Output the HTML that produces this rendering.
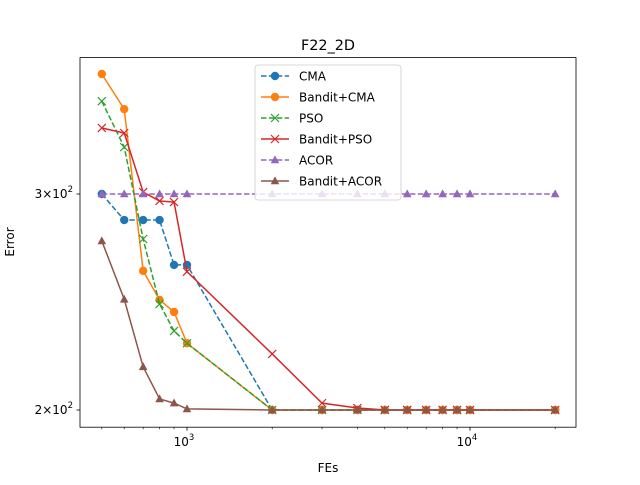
<!DOCTYPE html>
<html><head><meta charset="utf-8"><style>
body{margin:0;background:#fff;}
svg text{font-family:"DejaVu Sans","Liberation Sans",sans-serif;}
</style></head><body>
<svg id="chart" width="640" height="480" viewBox="0 0 640 480" xmlns="http://www.w3.org/2000/svg">
<rect width="640" height="480" fill="#fff"/>
<text x="328" y="50" font-size="14.4" text-anchor="middle">F22_2D</text>
<text x="328" y="472" font-size="12" text-anchor="middle">FEs</text>
<text transform="translate(14,242) rotate(-90)" font-size="12" text-anchor="middle">Error</text>
<g id="ticks"></g>
<g id="series"></g>
<rect x="80" y="57.6" width="496" height="369.6" fill="none" stroke="#000" stroke-width="0.8"/>
<g id="legend"></g>
</svg>
<script>
const fes = [500,600,700,800,900,1000,2000,3000,4000,5000,6000,7000,8000,9000,10000,20000];
const seriesNames = ["CMA","Bandit+CMA","PSO","Bandit+PSO","ACOR","Bandit+ACOR"];
const cma = [300,285.7,285.7,285.7,262.6,262.6,200,200,200,200,200,200,200,200,200,200];
const banditCma = [375.8,351.8,259.7,245.9,240.4,226.7,200,200,200,200,200,200,200,200,200,200];
const pso = [357.1,327.6,275.7,244.0,232.0,226.7,200,200,200,200,200,200,200,200,200,200];
const banditPso = [339.6,336.4,301.1,296.1,295.5,259.3,222.2,202.6,200.75,200,200,200,200,200,200,200];
const acor = [300,300,300,300,300,300,300,300,300,300,300,300,300,300,300,300];
const banditAcor = [274.7,246.2,216.9,204.2,202.6,200.4,200,200,200,200,200,200,200,200,200,200];
const xMajorTicks = [1000,10000];
const xMajorLabels = ["10","10"];
const xMajorExps = ["3","4"];
const xMinorTicks = [500,600,700,800,900,2000,3000,4000,5000,6000,7000,8000,9000,20000];
const yTicks = [200,300];
const yTickMant = ["2","3"];

const NS="http://www.w3.org/2000/svg";
function xs(v){return 187+(Math.log10(v)-3)*283;}
function ys(v){return 410-(Math.log10(v)-Math.log10(200))*1226.6;}
function mk(tag,attrs,parent){const e=document.createElementNS(NS,tag);for(const k in attrs)e.setAttribute(k,attrs[k]);parent.appendChild(e);return e;}
const tg=document.getElementById('ticks');
xMajorTicks.forEach((t,i)=>{
  const l=mk('line',{x1:xs(t),x2:xs(t),y1:427.2,y2:430.7,stroke:'#000','stroke-width':0.8},tg);
  
  
  const tx=mk('text',{x:xs(t)-3,y:446,'font-size':12,'text-anchor':'middle'},tg);
  
  
  tx.textContent=xMajorLabels[i];
  const ex=mk('tspan',{dy:-6,'font-size':8.5},tx);ex.textContent=xMajorExps[i];
});
xMinorTicks.forEach(t=>{
  const l=mk('line',{x1:xs(t),x2:xs(t),y1:427.2,y2:429.2,stroke:'#000','stroke-width':0.6},tg);
  
  
});
yTicks.forEach((t,i)=>{
  const l=mk('line',{x1:76.5,x2:80,y1:ys(t),y2:ys(t),stroke:'#000','stroke-width':0.8},tg);
  
  
  const tx=mk('text',{x:73,y:ys(t)+4,'font-size':12,'text-anchor':'end'},tg);
  
  
  tx.textContent=yTickMant[i]+"\u00d710";
  const ex=mk('tspan',{dy:-6,'font-size':8.5},tx);ex.textContent="2";
});
const colors=["#1f77b4","#ff7f0e","#2ca02c","#d62728","#9467bd","#8c564b"];
const dashed=[true,false,true,false,true,false];
const markers=["o","o","x","x","^","^"];
const data=[cma,banditCma,pso,banditPso,acor,banditAcor];
function marker(g,type,x,y,c){
  if(type==="o"){mk('circle',{cx:x,cy:y,r:4.2,fill:c},g);}
  else if(type==="x"){mk('path',{d:`M${x-4},${y-4}L${x+4},${y+4}M${x-4},${y+4}L${x+4},${y-4}`,stroke:c,'stroke-width':1.2,fill:'none'},g);}
  else{mk('path',{d:`M${x},${y-4.6}L${x+4.3},${y+3.3}L${x-4.3},${y+3.3}Z`,fill:c},g);}
}
const sg=document.getElementById('series');
data.forEach((arr,si)=>{
  const g=mk('g',{},sg);
  
  
  const pts=arr.map((v,i)=>xs(fes[i])+','+ys(v)).join(' ');
  const attrs={points:pts,fill:'none',stroke:colors[si],'stroke-width':1.5};
  if(dashed[si])attrs['stroke-dasharray']='5.5,2.4';
  mk('polyline',attrs,g);
  arr.forEach((v,i)=>marker(g,markers[si],xs(fes[i]),ys(v),colors[si]));
});
const lg=document.getElementById('legend');
const box=mk('rect',{x:255,y:65,width:146,height:135,rx:3,fill:'#fff','fill-opacity':0.8,stroke:'#ccc','stroke-width':0.8},lg);


seriesNames.forEach((n,i)=>{
  const y=76+i*21;
  const g=mk('g',{},lg);
  
  
  const a={x1:261,x2:289,y1:y,y2:y,stroke:colors[i],'stroke-width':1.5};
  if(dashed[i])a['stroke-dasharray']='5.5,2.4';
  mk('line',a,g);
  marker(g,markers[i],275,y,colors[i]);
  const t=mk('text',{x:299,y:y+4.5,'font-size':12},g);t.textContent=n;
});
</script>
</body></html>
